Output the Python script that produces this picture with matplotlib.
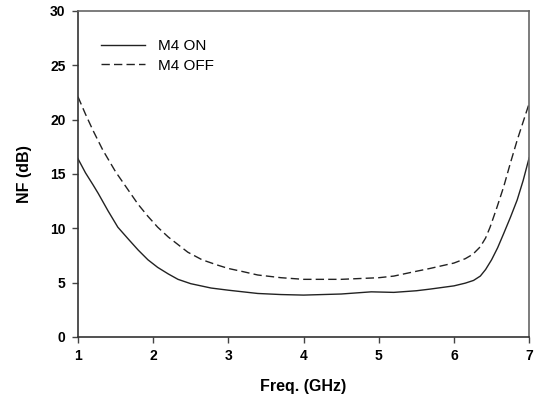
import matplotlib
matplotlib.use("Agg")
from matplotlib import pyplot as plt

# NF vs frequency
freq_on = [1.0, 1.1, 1.2, 1.27, 1.4, 1.53, 1.67, 1.8, 1.93, 2.06, 2.2, 2.33, 2.5, 2.77,
           3.0, 3.39, 3.7, 4.0, 4.5, 4.9, 5.2, 5.5, 5.68, 6.0, 6.15, 6.26, 6.35, 6.42,
           6.5, 6.58, 6.66, 6.75, 6.84, 6.92, 7.0]
nf_on = [16.4, 15.1, 14.0, 13.2, 11.6, 10.1, 9.0, 8.0, 7.1, 6.4, 5.8, 5.3, 4.9, 4.5,
         4.3, 4.0, 3.9, 3.85, 3.95, 4.15, 4.1, 4.25, 4.4, 4.7, 4.95, 5.2, 5.6, 6.2,
         7.1, 8.2, 9.5, 11.0, 12.6, 14.4, 16.5]

freq_off = [1.0, 1.1, 1.2, 1.33, 1.5, 1.67, 1.8, 1.93, 2.06, 2.2, 2.33, 2.46, 2.65, 2.86,
            3.0, 3.2, 3.39, 3.7, 4.0, 4.5, 5.0, 5.2, 5.47, 5.68, 6.0, 6.15, 6.25, 6.35,
            6.42, 6.48, 6.57, 6.66, 6.75, 6.84, 6.92, 7.0]
nf_off = [22.1, 20.5, 19.0, 17.2, 15.2, 13.5, 12.2, 11.1, 10.1, 9.2, 8.5, 7.8, 7.1, 6.6,
          6.3, 6.0, 5.7, 5.45, 5.3, 5.3, 5.45, 5.6, 6.0, 6.3, 6.8, 7.2, 7.6, 8.3,
          9.1, 10.1, 11.9, 13.8, 16.0, 18.1, 19.8, 21.5]

xticks = [1, 2, 3, 4, 5, 6, 7]
yticks = [0, 5, 10, 15, 20, 25, 30]

plt.rcParams['font.family'] = ['Liberation Sans', 'DejaVu Sans']

fig = plt.figure(figsize=(5.34, 4.04), dpi=100)
ax = fig.add_axes([0.146, 0.166, 0.845, 0.807])

ax.plot(freq_on, nf_on, color='#222222', lw=1.0, label='M4 ON')
ax.plot(freq_off, nf_off, color='#222222', lw=1.0, linestyle=(0, (6, 3)), label='M4 OFF')

ax.set_xlim(1, 7)
ax.set_ylim(0, 30)
ax.set_xticks(xticks)
ax.set_yticks(yticks)
ax.tick_params(direction='out', length=4, width=1, color='#444444', labelsize=10, pad=5)
for lab in ax.get_xticklabels() + ax.get_yticklabels():
    lab.set_fontweight('bold')

for side in ['left', 'bottom']:
    ax.spines[side].set_color('#333333')
    ax.spines[side].set_linewidth(1.2)
for side in ['top', 'right']:
    ax.spines[side].set_color('#666666')
    ax.spines[side].set_linewidth(1.2)

ax.set_xlabel('Freq. (GHz)', fontsize=11.5, fontweight='bold', labelpad=11)
ax.set_ylabel('NF (dB)', fontsize=11.5, fontweight='bold', labelpad=13)

ax.legend(loc='upper left', frameon=False, fontsize=11, handlelength=2.9,
          bbox_to_anchor=(0.02, 0.955), labelspacing=0.35, handletextpad=0.85)

fig.savefig('out.png', dpi=100)
